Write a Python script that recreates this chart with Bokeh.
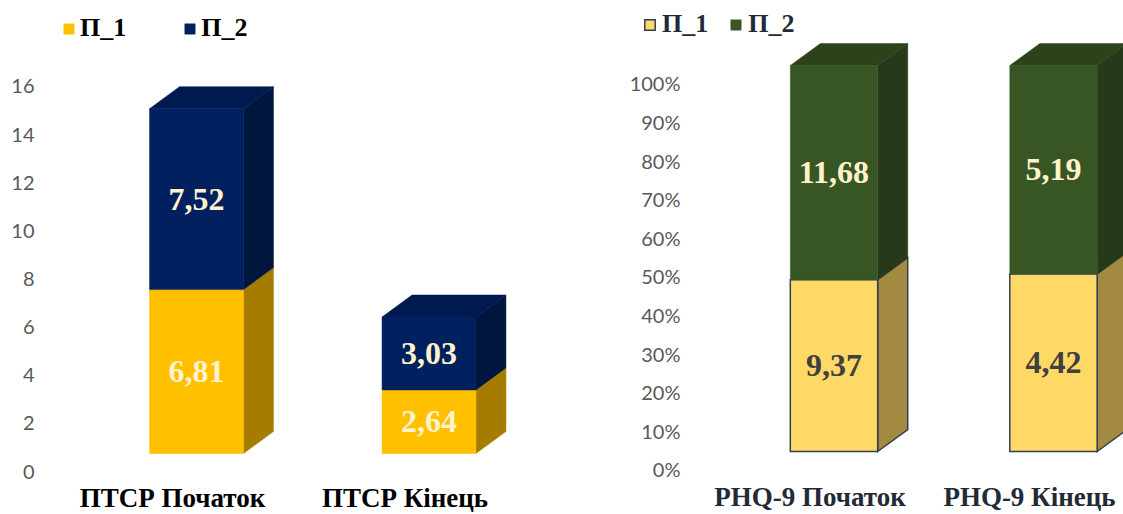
from bokeh.plotting import figure
from bokeh.models import Range1d, FixedTicker, NumeralTickFormatter, Legend, LegendItem, ColumnDataSource
from bokeh.layouts import row
from bokeh.core.properties import value
from bokeh.embed import file_html
from bokeh.resources import INLINE

# ---------------- data ----------------
series_names = ["П_1", "П_2"]

ptsr_categories = ["ПТСР Початок", "ПТСР Кінець"]
ptsr_p1 = [6.81, 2.64]
ptsr_p2 = [7.52, 3.03]
ptsr_ticks = [0, 2, 4, 6, 8, 10, 12, 14, 16]

phq_categories = ["PHQ-9 Початок", "PHQ-9 Кінець"]
phq_p1 = [9.37, 4.42]
phq_p2 = [11.68, 5.19]
phq_ticks = [0.0, 0.1, 0.2, 0.3, 0.4, 0.5, 0.6, 0.7, 0.8, 0.9, 1.0]


def fmt(v):
    return f"{v:.2f}".replace(".", ",")


SERIF = value("Liberation Serif")


def style_fig(p, tick_font_size, standoff):
    p.xaxis.visible = False
    p.xgrid.visible = False
    p.ygrid.visible = False
    p.outline_line_color = None
    p.background_fill_color = "white"
    p.border_fill_color = "white"
    ax = p.yaxis[0]
    ax.axis_line_color = None
    ax.major_tick_line_color = None
    ax.minor_tick_line_color = None
    ax.major_tick_in = 0
    ax.major_tick_out = 0
    ax.major_label_standoff = standoff
    ax.major_label_text_font = "Lato"
    ax.major_label_text_font_size = tick_font_size
    ax.major_label_text_color = "#595959"


def draw_stack(p, n, seg_vals, base, hw, dx, dy, styles):
    """seg_vals: list of series value arrays (bottom to top). Returns front renderers and mid points."""
    cum = [0.0] * n
    bottoms_all, tops_all = [], []
    for vals in seg_vals:
        b = [base + cum[i] for i in range(n)]
        t = [base + cum[i] + vals[i] for i in range(n)]
        cum = [cum[i] + vals[i] for i in range(n)]
        bottoms_all.append(b)
        tops_all.append(t)
    # side faces
    for s in range(len(seg_vals)):
        st = styles[s]
        xs = [[i + hw, i + hw + dx, i + hw + dx, i + hw] for i in range(n)]
        ys = [[bottoms_all[s][i], bottoms_all[s][i] + dy, tops_all[s][i] + dy, tops_all[s][i]] for i in range(n)]
        p.patches(xs, ys, fill_color=st["side"], line_color=st["line"] or st["side"],
                  line_width=st["lw"] or 0.5, line_join="miter")
    # top face of the top segment
    st = styles[-1]
    xs = [[i - hw, i - hw + dx, i + hw + dx, i + hw] for i in range(n)]
    ys = [[tops_all[-1][i], tops_all[-1][i] + dy, tops_all[-1][i] + dy, tops_all[-1][i]] for i in range(n)]
    p.patches(xs, ys, fill_color=st["top"], line_color=st["line"] or st["top"],
              line_width=st["lw"] or 0.5, line_join="miter")
    # front faces
    fronts = []
    for s in range(len(seg_vals)):
        st = styles[s]
        src = ColumnDataSource(dict(
            left=[i - hw for i in range(n)], right=[i + hw for i in range(n)],
            bottom=bottoms_all[s], top=tops_all[s]))
        r = p.quad(left="left", right="right", bottom="bottom", top="top", source=src,
                   fill_color=st["front"], line_color=st["line"] or st["front"],
                   line_width=st["lw"] or 0.5, line_join="miter")
        fronts.append(r)
    mids = [[(bottoms_all[s][i] + tops_all[s][i]) / 2 for i in range(n)] for s in range(len(seg_vals))]
    return fronts, mids


W1, W2, H = 608, 515, 514

# ---------------- left chart: ПТСР ----------------
p1 = figure(width=W1, height=H, output_backend="svg", toolbar_location=None,
            x_range=Range1d(-0.671, 1.772), y_range=Range1d(-1.787, 19.574),
            min_border_left=40, min_border_right=0, min_border_top=0, min_border_bottom=0)
style_fig(p1, "20px", 6)
p1.yaxis[0].ticker = FixedTicker(ticks=ptsr_ticks)

left_styles = [
    dict(front="#FFC000", side="#A67C00", top="#C89600", line=None, lw=0),
    dict(front="#002060", side="#00163F", top="#001A4F", line=None, lw=0),
]
fr1, mids1 = draw_stack(p1, 2, [ptsr_p1, ptsr_p2], 0.75, 0.202, 0.129, 0.914, left_styles)
for s, vals in enumerate([ptsr_p1, ptsr_p2]):
    p1.text(x=[0, 1], y=mids1[s], text=[fmt(v) for v in vals], text_align="center",
            text_baseline="middle", text_font=SERIF, text_font_style="bold",
            text_font_size="32px", text_color="#FFF2CC")

cat_src1 = ColumnDataSource(dict(x=[0, 1], y=[-1.081, -1.081], t=ptsr_categories))
p1.text(x="x", y="y", text="t", source=cat_src1, x_offset=-24, text_align="center",
        text_baseline="middle", text_font=SERIF, text_font_style="bold",
        text_font_size="27px", text_color="#000000")

leg1 = Legend(items=[LegendItem(label=series_names[0], renderers=[fr1[0]]),
                     LegendItem(label=series_names[1], renderers=[fr1[1]])],
              orientation="horizontal", location=(22, 471), padding=0, margin=0,
              border_line_color=None, background_fill_alpha=0,
              glyph_width=13, glyph_height=13, label_standoff=5, spacing=57,
              label_text_font="Liberation Serif", label_text_font_style="bold",
              label_text_font_size="26px", label_text_color="#000000")
p1.add_layout(leg1)

# ---------------- right chart: PHQ-9 (100% stacked) ----------------
# frame starts at page x 618; tick labels pulled inside with a negative standoff
p2 = figure(width=W2, height=H, output_backend="svg", toolbar_location=None,
            x_range=Range1d((618 - 833.5) / 219.5, 1.319), y_range=Range1d(-0.1166, 1.2150),
            min_border_left=10, min_border_right=0, min_border_top=0, min_border_bottom=0)
style_fig(p2, "20px", -62)
p2.yaxis[0].ticker = FixedTicker(ticks=phq_ticks)
p2.yaxis[0].formatter = NumeralTickFormatter(format="0%")

totals = [phq_p1[i] + phq_p2[i] for i in range(2)]
phq_p1_share = [phq_p1[i] / totals[i] for i in range(2)]
phq_p2_share = [phq_p2[i] / totals[i] for i in range(2)]

right_styles = [
    dict(front="#FFD966", side="#A38A41", top="#C9AB50", line="#333F50", lw=1.5),
    dict(front="#375623", side="#26391A", top="#2B421B", line=None, lw=0),
]
fr2, mids2 = draw_stack(p2, 2, [phq_p1_share, phq_p2_share], 0.0466, 0.199, 0.137, 0.057, right_styles)
p2.text(x=[0, 1], y=mids2[0], text=[fmt(v) for v in phq_p1], text_align="center", text_baseline="middle",
        text_font=SERIF, text_font_style="bold", text_font_size="32px", text_color="#404040")
p2.text(x=[0, 1], y=mids2[1], text=[fmt(v) for v in phq_p2], text_align="center", text_baseline="middle",
        text_font=SERIF, text_font_style="bold", text_font_size="32px", text_color="#FFF2CC")

cat_src2 = ColumnDataSource(dict(x=[0, 1], y=[-0.0725, -0.0725], t=phq_categories))
p2.text(x="x", y="y", text="t", source=cat_src2, x_offset=-24, text_align="center",
        text_baseline="middle", text_font=SERIF, text_font_style="bold",
        text_font_size="27px", text_color="#222A35")

leg2 = Legend(items=[LegendItem(label=series_names[0], renderers=[fr2[0]]),
                     LegendItem(label=series_names[1], renderers=[fr2[1]])],
              orientation="horizontal", location=(25, 475), padding=0, margin=0,
              border_line_color=None, background_fill_alpha=0,
              glyph_width=13, glyph_height=13, label_standoff=6, spacing=21,
              label_text_font="Liberation Serif", label_text_font_style="bold",
              label_text_font_size="26px", label_text_color="#222A35")
p2.add_layout(leg2)

layout = row(p1, p2, spacing=0)
open("out.html", "w").write(file_html(layout, INLINE))
